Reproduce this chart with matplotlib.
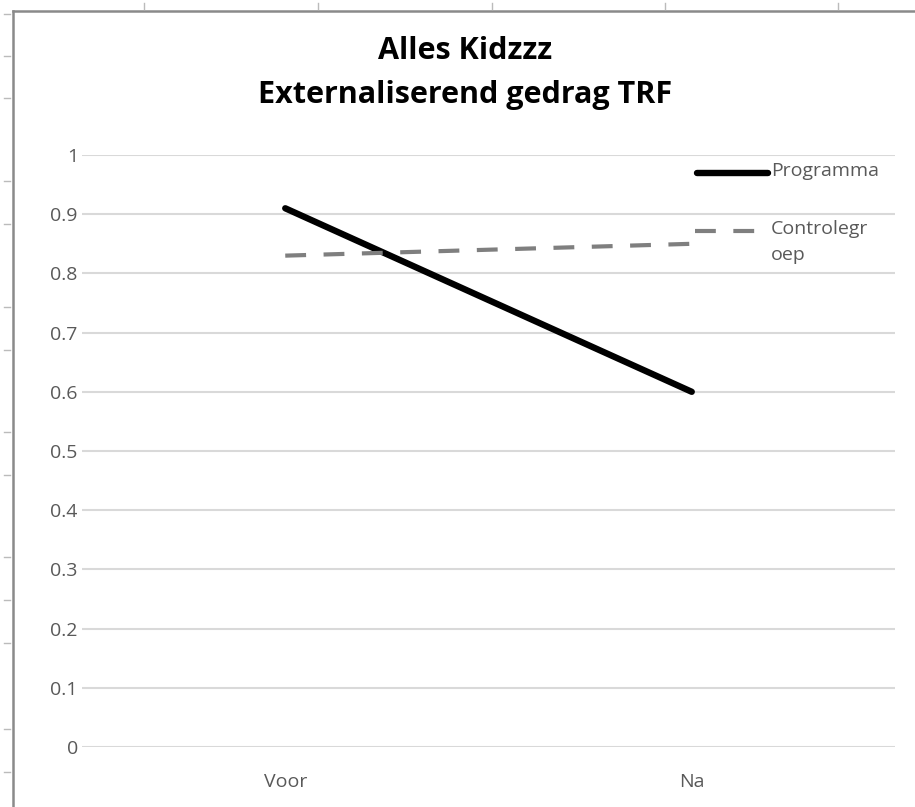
import matplotlib.pyplot as plt
from matplotlib.lines import Line2D

# data
categories = ['Voor', 'Na']
programma = [0.91, 0.60]
controlegroep = [0.83, 0.85]
yticks = [0, 0.1, 0.2, 0.3, 0.4, 0.5, 0.6, 0.7, 0.8, 0.9, 1]
ytick_labels = ['0', '0.1', '0.2', '0.3', '0.4', '0.5', '0.6', '0.7', '0.8', '0.9', '1']
series_names = ['Programma', 'Controlegr\noep']

W, H = 915, 807
plt.rcParams['font.family'] = ['Open Sans', 'DejaVu Sans']

fig = plt.figure(figsize=(W / 100, H / 100), dpi=100)

# chart frame (page border, cut off right/bottom)
fig.add_artist(Line2D([13 / W, 13 / W], [0, 1 - 11 / H], color='#8a8a8a', lw=1.8))
fig.add_artist(Line2D([13 / W, 1], [1 - 11 / H, 1 - 11 / H], color='#8a8a8a', lw=1.8))

# ruler marks outside the frame
left_marks = [14, 56, 98, 181, 224, 307, 350, 432, 475, 557, 600, 643, 729, 772]
for y in left_marks:
    fig.add_artist(Line2D([4 / W, 10 / W], [1 - y / H, 1 - y / H], color='#bbbbbb', lw=1))
top_marks = [144, 318, 492, 665, 838]
for x in top_marks:
    fig.add_artist(Line2D([x / W, x / W], [1 - 3 / H, 1 - 9 / H], color='#bbbbbb', lw=1))

ax = fig.add_axes([82 / W, (H - 747) / H, (895 - 82) / W, 592 / H])
x = list(range(len(categories)))
l1, = ax.plot(x, programma, color='black', lw=4.6, solid_capstyle='round', zorder=3)
l2, = ax.plot(x, controlegroep, color='#7f7f7f', lw=3, dashes=(5, 4.2), zorder=3)

ax.set_xlim(-0.5, 1.5)
ax.set_ylim(0, 1)
ax.set_yticks(yticks)
ax.set_yticklabels(ytick_labels)
ax.set_xticks(x)
ax.set_xticklabels(categories)
ax.yaxis.grid(True, color='#d9d9d9', lw=1.5)
ax.set_axisbelow(True)
for s in ax.spines.values():
    s.set_visible(False)
ax.tick_params(length=0, labelsize=14, labelcolor='#595959')
ax.tick_params(axis='y', pad=3)
ax.tick_params(axis='x', pad=19)

fig.text(465 / W, 1 - 73 / H, 'Alles Kidzzz\nExternaliserend gedrag TRF', ha='center', va='center',
         fontsize=22, fontweight='bold', color='black', linespacing=1.6)

# legend, Excel style: sample line, then label (wrapped)
leg_y = [173, 231]
samples = [(697, 768), (695, 755)]
for line, name, y, (x0, x1) in zip([l1, l2], series_names, leg_y, samples):
    h = Line2D([x0 / W, x1 / W], [1 - y / H, 1 - y / H], color=line.get_color(), lw=line.get_linewidth(),
               solid_capstyle='round')
    if line is l2:
        h.set_dashes((5, 4.2))
    fig.add_artist(h)
    fig.text(771 / W, 1 - (y - 11) / H, name, ha='left', va='top', fontsize=14, color='#595959',
             linespacing=1.6)

fig.savefig('out.png', dpi=100, facecolor='white')
